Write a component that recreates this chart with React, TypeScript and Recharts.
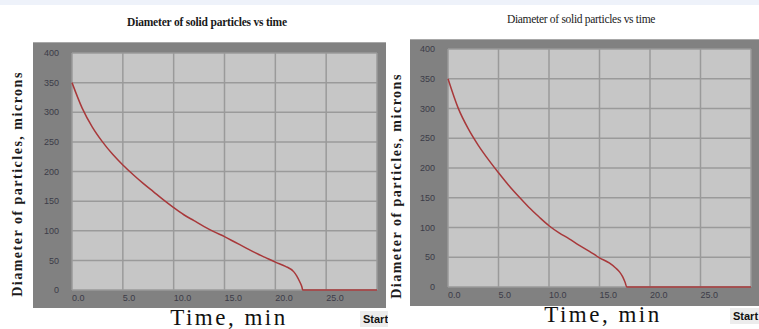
import { LineChart, Line, XAxis, YAxis, CartesianGrid } from "recharts";

// left run: diameter (microns) vs time (min)
const leftTime = [0, 1, 2, 3, 4, 5, 6, 7, 8, 9, 10, 11, 12, 13, 14, 15, 16, 17, 18, 19, 20, 21, 21.8, 22.1, 22.4, 22.6, 22.7, 30];
const leftDiameter = [350, 307, 275, 250, 229, 211, 195, 180, 166, 152, 139, 127, 117, 107, 98, 90, 81, 72, 63, 55, 47, 40, 31, 24, 14, 6, 0, 0];

// right run
const rightTime = [0, 1, 2, 3, 4, 5, 6, 7, 8, 9, 10, 11, 12, 13, 14, 15, 16, 16.6, 17, 17.3, 17.55, 17.7, 30];
const rightDiameter = [350, 301, 266, 238, 214, 192, 171, 152, 134, 118, 103, 91, 81, 70, 60, 49, 40, 32, 25, 17, 7, 0, 0];

const xTicks = [0, 5, 10, 15, 20, 25];
const yTicks = [0, 50, 100, 150, 200, 250, 300, 350, 400];

const titleText = "Diameter of solid particles vs time";
const yLabelText = "Diameter of particles, microns";
const xLabelText = "Time, min";

const tickStyle = {
  fill: "#3c3c48",
  fontSize: 9,
  fontFamily: "'Liberation Sans Narrow', 'Liberation Sans', sans-serif",
};

type PanelProps = {
  time: number[];
  diameter: number[];
  left: number;
  top: number;
  width: number;
  height: number;
  margin: { top: number; right: number; left: number; bottom: number };
  yAxisWidth: number;
  xAxisHeight: number;
};

const Panel = ({ time, diameter, left, top, width, height, margin, yAxisWidth, xAxisHeight }: PanelProps) => {
  const data = time.map((t, i) => ({ t, d: diameter[i] }));
  return (
    <div
      style={{
        position: "absolute",
        left,
        top,
        width,
        height,
        background: "#818181",
        borderTop: "1px solid #a8a8a8",
        boxSizing: "border-box",
      }}
    >
      <LineChart width={width} height={height - 1} data={data} margin={margin}>
        <CartesianGrid stroke="#9a9a9a" strokeWidth={1.5} fill="#c6c6c6" fillOpacity={1} />
        <XAxis
          dataKey="t"
          type="number"
          domain={[0, 30]}
          ticks={xTicks}
          interval={0}
          height={xAxisHeight}
          tickSize={0}
          tickMargin={5}
          tickFormatter={(v: number) => v.toFixed(1)}
          tick={{ ...tickStyle, textAnchor: "start" }}
          axisLine={false}
        />
        <YAxis
          type="number"
          domain={[0, 400]}
          ticks={yTicks}
          interval={0}
          width={yAxisWidth}
          tickSize={0}
          tickMargin={13}
          tick={tickStyle}
          axisLine={false}
        />
        <Line
          type="monotone"
          dataKey="d"
          stroke="#a8383a"
          strokeWidth={1.5}
          dot={false}
          isAnimationActive={false}
        />
      </LineChart>
    </div>
  );
};

const Title = ({ cx, cy, bold }: { cx: number; cy: number; bold: boolean }) => (
  <div
    style={{
      position: "absolute",
      left: cx,
      top: cy,
      transform: "translate(-50%, -50%)",
      whiteSpace: "nowrap",
      fontFamily: "'Liberation Serif', serif",
      fontWeight: bold ? "bold" : "normal",
      fontSize: 11.5,
      letterSpacing: bold ? -0.2 : -0.3,
      color: "#1a1a1a",
    }}
  >
    {titleText}
  </div>
);

const YLabel = ({ cx, cy }: { cx: number; cy: number }) => (
  <div
    style={{
      position: "absolute",
      left: cx,
      top: cy,
      transform: "translate(-50%, -50%) rotate(-90deg)",
      whiteSpace: "nowrap",
      fontFamily: "'Liberation Serif', serif",
      fontWeight: "bold",
      fontSize: 14,
      letterSpacing: 1.5,
      color: "#1a1a1a",
    }}
  >
    {yLabelText}
  </div>
);

const XLabel = ({ cx, cy }: { cx: number; cy: number }) => (
  <div
    style={{
      position: "absolute",
      left: cx,
      top: cy,
      transform: "translate(-50%, -50%)",
      whiteSpace: "nowrap",
      fontFamily: "'Liberation Serif', serif",
      fontSize: 23,
      letterSpacing: 2.5,
      color: "#111",
    }}
  >
    {xLabelText}
  </div>
);

const StartButton = ({ left, top, width }: { left: number; top: number; width: number }) => (
  <div
    style={{
      position: "absolute",
      left,
      top,
      width,
      height: 16,
      background: "#ececec",
      overflow: "hidden",
      fontFamily: "'Liberation Sans', sans-serif",
      fontWeight: "bold",
      fontSize: 11,
      lineHeight: "16px",
      paddingLeft: 3,
      boxSizing: "border-box",
      color: "#111",
    }}
  >
    Start
  </div>
);

export default function App() {
  return (
    <div
      style={{
        position: "absolute",
        left: 0,
        top: 0,
        width: 759,
        height: 329,
        overflow: "hidden",
        background: "#ffffff",
      }}
    >
      <div style={{ position: "absolute", left: 0, top: 0, width: 759, height: 5, background: "#eef2fa" }} />

      <Title cx={207} cy={22} bold={true} />
      <Title cx={581} cy={19} bold={false} />

      <Panel
        time={leftTime}
        diameter={leftDiameter}
        left={33}
        top={42}
        width={353}
        height={266}
        margin={{ top: 10, right: 9, left: 0, bottom: 0 }}
        yAxisWidth={39}
        xAxisHeight={18}
      />
      <Panel
        time={rightTime}
        diameter={rightDiameter}
        left={410}
        top={39}
        width={349}
        height={267}
        margin={{ top: 9, right: 8, left: 0, bottom: 0 }}
        yAxisWidth={38}
        xAxisHeight={19}
      />

      <YLabel cx={18} cy={184} />
      <YLabel cx={397} cy={186} />

      <XLabel cx={229} cy={318} />
      <XLabel cx={603} cy={315} />

      <StartButton left={360} top={311} width={28} />
      <StartButton left={730} top={308} width={29} />
    </div>
  );
}
